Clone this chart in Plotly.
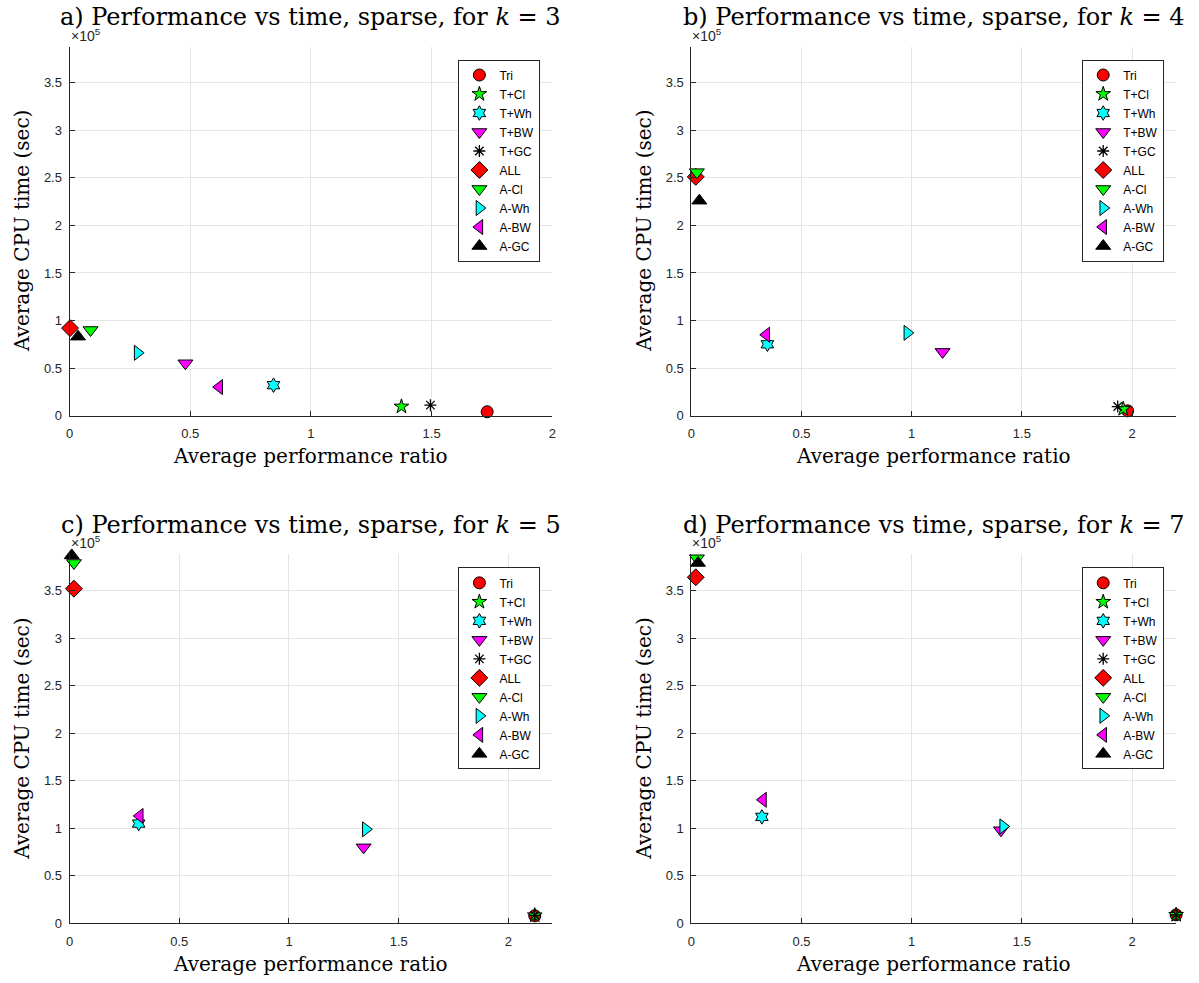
import plotly.graph_objects as go

# Heuristics compared in each panel
methods = ["Tri", "T+Cl", "T+Wh", "T+BW", "T+GC", "ALL", "A-Cl", "A-Wh", "A-BW", "A-GC"]
symbols = ["circle", "star", "hexagram", "triangle-down", "asterisk",
           "diamond", "triangle-down", "triangle-right", "triangle-left", "triangle-up"]
colors = ["#ff0000", "#00ff00", "#00ffff", "#ff00ff", "#000000",
          "#ff0000", "#00ff00", "#00ffff", "#ff00ff", "#000000"]
sizes = [12, 11, 11, 13, 10, 13, 13, 13, 13, 13]

# Average performance ratio and average CPU time (sec) per heuristic
ratio_k3 = [1.73, 1.375, 0.845, 0.48, 1.495, 0.002, 0.087, 0.282, 0.62, 0.035]
cpu_k3 = [4000, 9500, 32000, 55000, 11000, 92000, 90000, 66000, 30000, 83000]

ratio_k4 = [1.98, 1.96, 0.345, 1.14, 1.935, 0.02, 0.025, 0.98, 0.34, 0.036]
cpu_k4 = [5000, 7000, 75000, 67000, 9500, 251000, 256000, 87000, 85000, 226000]

ratio_k5 = [2.12, 2.12, 0.315, 1.34, 2.12, 0.02, 0.02, 1.35, 0.32, 0.01]
cpu_k5 = [8000, 8500, 105000, 80000, 8500, 352000, 379000, 99000, 113000, 387000]

ratio_k7 = [2.2, 2.2, 0.32, 1.405, 2.2, 0.02, 0.025, 1.415, 0.325, 0.03]
cpu_k7 = [9000, 9000, 112000, 98000, 9000, 364000, 384000, 102000, 130000, 379000]

panels = [
    ("a", 3, ratio_k3, cpu_k3, 2.0),
    ("b", 4, ratio_k4, cpu_k4, 2.2),
    ("c", 5, ratio_k5, cpu_k5, 2.2),
    ("d", 7, ratio_k7, cpu_k7, 2.2),
]

W, H = 1199, 983
# axes boxes in pixels: (left, right, top, bottom)
boxes = [(66, 552, 47, 419), (692, 1180, 47, 419),
         (66, 552, 559, 931), (692, 1180, 559, 931)]
YMAX = 3.88  # in units of 1e5 sec
SCALE = 1e5

serif = "DejaVu Serif"
sans = "Liberation Sans"
axis_col = "#262626"

fig = go.Figure()
layout = dict(width=W, height=H, margin=dict(l=0, r=0, t=0, b=0),
              paper_bgcolor="white", plot_bgcolor="white", showlegend=True)
annotations = []


def px_x(v):
    return v / W


def px_y(v):
    return 1 - v / H


for i, (tag, k, ratios, cpus, xmax) in enumerate(panels):
    n = i + 1
    xa = "x" if n == 1 else f"x{n}"
    ya = "y" if n == 1 else f"y{n}"
    lg = "legend" if n == 1 else f"legend{n}"
    l, r, t, b = boxes[i]

    for j, m in enumerate(methods):
        is_line = symbols[j] == "asterisk"
        fig.add_trace(go.Scatter(
            x=[ratios[j]], y=[cpus[j] / SCALE], mode="markers", name=m,
            xaxis=xa, yaxis=ya, legend=lg, cliponaxis=False,
            marker=dict(symbol=symbols[j], size=sizes[j], color=colors[j],
                        line=dict(color="#000000", width=1.3 if is_line else 1)),
        ))

    xticks = [0, 0.5, 1, 1.5, 2]
    layout[f"xaxis{'' if n == 1 else n}"] = dict(
        domain=[px_x(l), px_x(r)], anchor=ya, range=[0, xmax], tickvals=xticks,
        ticktext=[f"{v:g}" for v in xticks],
        showgrid=True, gridcolor="#e5e5e5", gridwidth=1, zeroline=False,
        showline=True, linecolor=axis_col, linewidth=1, mirror=False,
        ticks="inside", ticklen=5, tickcolor=axis_col, ticklabelstandoff=6,
        tickfont=dict(family=sans, size=13, color=axis_col),
    )
    yticks = [0, 0.5, 1, 1.5, 2, 2.5, 3, 3.5]
    layout[f"yaxis{'' if n == 1 else n}"] = dict(
        domain=[px_y(b), px_y(t)], anchor=xa, range=[0, YMAX], tickvals=yticks,
        ticktext=[f"{v:g}" for v in yticks],
        showgrid=True, gridcolor="#e5e5e5", gridwidth=1, zeroline=False,
        showline=True, linecolor=axis_col, linewidth=1, mirror=False,
        ticks="inside", ticklen=5, tickcolor=axis_col, ticklabelstandoff=4,
        tickfont=dict(family=sans, size=13, color=axis_col),
    )
    layout[lg] = dict(
        x=px_x(r - 12), xanchor="right",
        y=px_y(t + 13), yanchor="top",
        bgcolor="white", bordercolor="#262626", borderwidth=1,
        font=dict(family=sans, size=12, color="#000000"),
        itemwidth=30, tracegroupgap=0,
    )
    # panel title
    annotations.append(dict(
        text=f"{tag}) Performance vs time, sparse, for <i>k</i> = {k}",
        x=px_x((l + r) / 2), y=px_y(t - 30), xref="paper", yref="paper",
        xanchor="center", yanchor="middle", showarrow=False,
        font=dict(family=serif, size=24, color="#000000"),
    ))
    # axis titles
    annotations.append(dict(
        text="Average performance ratio",
        x=px_x((l + r) / 2), y=px_y(b + 41), xref="paper", yref="paper",
        xanchor="center", yanchor="middle", showarrow=False,
        font=dict(family=serif, size=20, color="#000000"),
    ))
    annotations.append(dict(
        text="Average CPU time (sec)", textangle=-90,
        x=px_x(l - 48), y=px_y((t + b) / 2), xref="paper", yref="paper",
        xanchor="center", yanchor="middle", showarrow=False,
        font=dict(family=serif, size=20, color="#000000"),
    ))
    # exponent multiplier above the y axis
    annotations.append(dict(
        text="×10<sup>5</sup>", x=px_x(l - 1), y=px_y(t - 1),
        xref="paper", yref="paper", xanchor="left", yanchor="bottom",
        showarrow=False, font=dict(family=sans, size=14, color=axis_col),
    ))

layout["annotations"] = annotations
fig.update_layout(**layout)
fig.write_html("out.html")
